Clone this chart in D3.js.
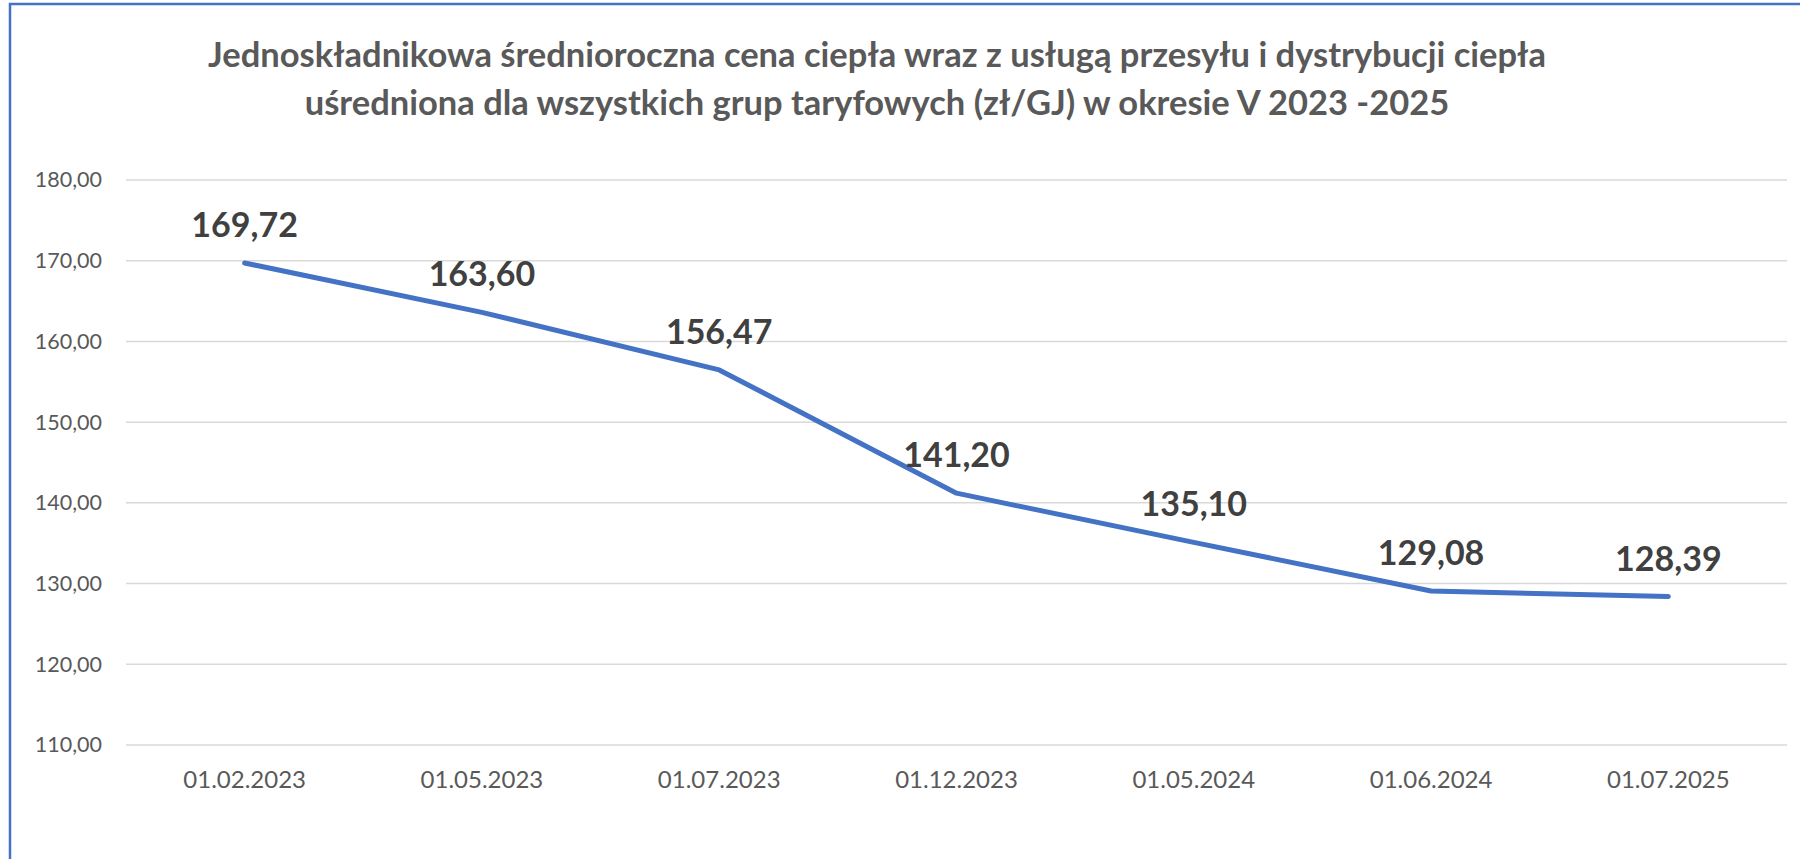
<!DOCTYPE html>
<html>
<head>
<meta charset="utf-8">
<script src="https://cdn.jsdelivr.net/npm/d3@7"></script>
<style>
  body { margin: 0; background: #fff; }
  svg { display: block; }
</style>
</head>
<body>
<script>
// dane
var dates = ["01.02.2023", "01.05.2023", "01.07.2023", "01.12.2023", "01.05.2024", "01.06.2024", "01.07.2025"];
var prices = [169.72, 163.60, 156.47, 141.20, 135.10, 129.08, 128.39];
var yTicks = [110, 120, 130, 140, 150, 160, 170, 180];
var titleLines = [
  "Jednoskładnikowa średnioroczna cena ciepła wraz z usługą przesyłu i dystrybucji ciepła",
  "uśredniona dla wszystkich grup taryfowych (zł/GJ) w okresie V 2023 -2025"
];

var width = 1800, height = 859;
var margin = {top: 180, right: 13, bottom: 114, left: 126};
var font = "Lato, 'Open Sans', sans-serif";

var pl = d3.formatLocale({decimal: ",", thousands: " ", grouping: [3], currency: ["", " zł"]});
var fmt = pl.format(".2f");

var svg = d3.select("body")
  .append("svg")
  .attr("width", width)
  .attr("height", height);

// ramka wykresu
svg.append("rect")
  .attr("x", 10)
  .attr("y", 4)
  .attr("width", width)
  .attr("height", height)
  .attr("fill", "#fff")
  .attr("stroke", "#4472c4")
  .attr("stroke-width", 2.5);

svg.append("g")
  .selectAll("text")
  .data(titleLines)
  .enter()
  .append("text")
  .attr("x", 877)
  .attr("y", (d, i) => 67 + i * 48)
  .attr("text-anchor", "middle")
  .attr("font-family", font)
  .attr("font-weight", "bold")
  .attr("font-size", 34.5)
  .attr("fill", "#595959")
  .text(d => d);

var x = d3.scaleBand()
  .domain(dates)
  .range([margin.left, width - margin.right]);

var y = d3.scaleLinear()
  .domain([110, 180])
  .range([height - margin.bottom, margin.top]);

// linie siatki
svg.append("g")
  .selectAll("line")
  .data(yTicks)
  .enter()
  .append("line")
  .attr("x1", x.range()[0])
  .attr("x2", x.range()[1])
  .attr("y1", d => y(d))
  .attr("y2", d => y(d))
  .attr("stroke", "#d9d9d9")
  .attr("stroke-width", 1.5);

var yAxis = svg.append("g")
  .attr("transform", "translate(" + (margin.left - 24) + ",0)")
  .call(d3.axisLeft(y).tickValues(yTicks).tickFormat(fmt).tickSize(0).tickPadding(0));
yAxis.select(".domain").remove();
yAxis.selectAll("text")
  .attr("font-family", font)
  .attr("font-size", 21.5)
  .attr("fill", "#595959");

var xAxis = svg.append("g")
  .attr("transform", "translate(0," + (height - margin.bottom) + ")")
  .call(d3.axisBottom(x).tickSize(0).tickPadding(26));
xAxis.select(".domain").remove();
xAxis.selectAll("text")
  .attr("font-family", font)
  .attr("font-size", 24)
  .attr("fill", "#595959");

var cx = d => x(d) + x.bandwidth() / 2;

var line = d3.line()
  .x((d, i) => cx(dates[i]))
  .y(d => y(d));

svg.append("path")
  .datum(prices)
  .attr("d", line)
  .attr("fill", "none")
  .attr("stroke", "#4472c4")
  .attr("stroke-width", 5)
  .attr("stroke-linejoin", "round")
  .attr("stroke-linecap", "round");

svg.append("g")
  .selectAll("text")
  .data(prices)
  .enter()
  .append("text")
  .attr("x", (d, i) => cx(dates[i]))
  .attr("y", d => y(d) - 26)
  .attr("text-anchor", "middle")
  .attr("font-family", font)
  .attr("font-weight", "bold")
  .attr("font-size", 34)
  .attr("fill", "#404040")
  .text(d => fmt(d));
</script>
</body>
</html>
